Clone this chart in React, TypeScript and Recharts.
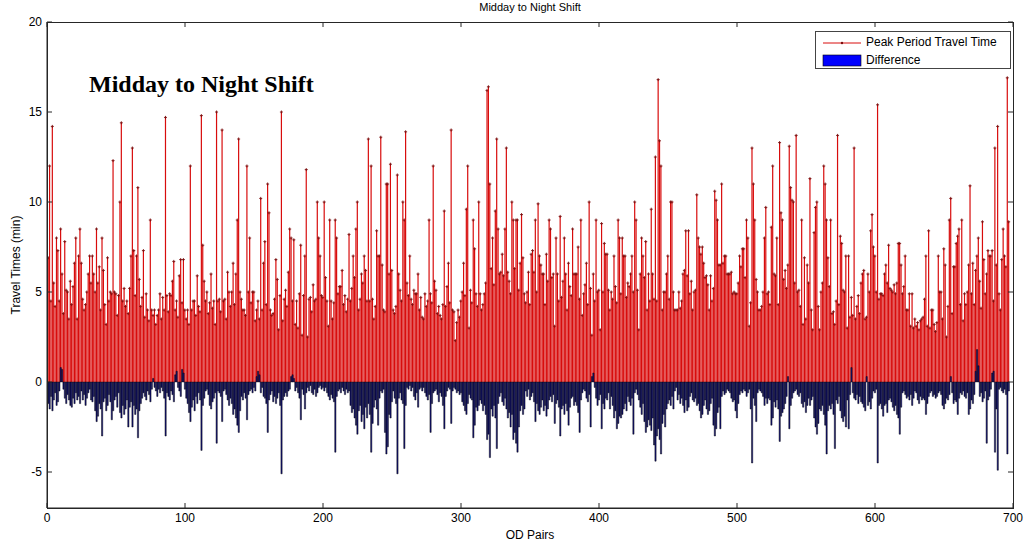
import React from 'react'
import { ComposedChart, Bar, XAxis, YAxis, Legend, Rectangle } from 'recharts'

// peak period travel time per OD pair (min), OD 1..697
const peakTravelTime = [
  6.9, 12, 4.5, 14.2, 5.5, 4.2, 8, 7.3, 4.5, 8.5,
  6, 3.8, 7.8, 5.1, 5, 3.5, 5.6, 4.3, 5.3, 6.6,
  8, 3.5, 7, 8.5, 6.6, 4.6, 4, 4.3, 5, 6,
  7, 5.5, 7, 6, 5, 8.5, 5.5, 6.4, 4, 8,
  6.2, 4.3, 3.2, 6.9, 4.5, 5, 4.9, 12.3, 5, 4.9,
  3.7, 4.8, 10, 14.4, 4.5, 5.2, 4.2, 4.5, 3.8, 5.2,
  7, 13, 7.3, 4.8, 7, 10.8, 5.7, 4.2, 4.7, 7.3,
  3.6, 4.9, 4, 3.4, 9, 4, 3.7, 4, 3.2, 3.7,
  4, 4.9, 3.5, 4.7, 4, 14.7, 4.8, 3.9, 4.9, 4.8,
  5.6, 6.7, 4, 4.5, 3.6, 5.9, 6.8, 4.4, 6.8, 4,
  3.5, 4, 3.2, 12, 4, 4.5, 4.5, 3.7, 5.9, 4.2,
  3.9, 14.8, 7.6, 5.6, 4.5, 5, 3.8, 4.4, 6, 4.1,
  4.5, 3.2, 15, 4.5, 4.6, 3.9, 14, 4.5, 4.6, 3.5,
  6.1, 5, 4.2, 5, 6.6, 4.3, 6, 9, 13.5, 5,
  4.6, 4, 4, 3.7, 12, 5, 8, 4.4, 5, 5,
  3.4, 4, 4.5, 3.5, 10.2, 4, 6.6, 7.8, 4.3, 11,
  9.4, 4, 3.7, 3.8, 4.6, 6.8, 5.7, 2.9, 4.8, 15,
  3.4, 4.6, 5.1, 4.2, 6.1, 8.5, 8, 4.5, 7.9, 3.2,
  4.5, 3, 4.9, 7.6, 2.6, 4.8, 7, 11.8, 2.5, 4.6,
  4.7, 3.9, 5.4, 4.5, 4.6, 10, 8, 7, 4.8, 4.7,
  10, 5.8, 4.5, 3.1, 9, 4.5, 3.5, 4.4, 9, 8,
  4.9, 5.3, 5.3, 6.2, 4.3, 4.8, 3.9, 4.6, 8.2, 4.5,
  5.2, 7, 5.8, 8.5, 10, 4, 4.6, 6, 5.5, 7,
  6.2, 4.5, 13.5, 4.5, 12, 4.6, 3.5, 4.2, 8.4, 7,
  7, 13.6, 6.5, 4, 3.9, 11, 11, 6, 12.1, 6.2,
  4, 3.8, 4.2, 11.5, 6, 5.1, 4.5, 10, 9, 13.9,
  5.5, 4.8, 7, 4.6, 4.3, 5.1, 4.9, 4.9, 6, 4,
  4.7, 3.6, 3.5, 4.9, 4.2, 4.5, 9, 4.9, 4.4, 12,
  5.6, 5.1, 3.8, 4.2, 3.7, 3.5, 4.3, 9.5, 4.2, 5.3,
  6.6, 4.4, 14, 4, 3.9, 2.3, 3.3, 4, 3.6, 4.5,
  5, 6.6, 4.8, 9.6, 12, 3, 5.1, 4.4, 9, 7.4,
  4.9, 4.2, 10, 4.9, 4, 4.3, 4.9, 5.5, 16.2, 16.4,
  11, 6.3, 8, 5.4, 9.5, 13.5, 8.5, 6, 6.1, 7.1,
  5.9, 8.5, 13, 6.1, 5.6, 4.9, 10, 9, 6.3, 9,
  9, 5.1, 6.6, 9.3, 6.9, 4.9, 4.4, 5, 6.1, 4.3,
  7.1, 7.3, 6.1, 9, 5, 9.9, 7, 6.5, 6, 6,
  4.3, 7.1, 5.6, 9, 8.5, 5.8, 6, 3.1, 8, 6,
  4.5, 9.2, 4.7, 5.6, 8, 6, 4, 6.6, 5.3, 4.8,
  8.5, 6, 6, 6, 7.5, 4.6, 9, 3.7, 4.9, 5.4,
  6.6, 4.3, 10, 5.2, 2.6, 6, 4.5, 9, 5, 5.1,
  2.9, 8.8, 5, 7.7, 7.1, 7.1, 5.1, 4, 5, 4.6,
  7, 5.3, 4.4, 9, 8, 4.9, 8, 7, 7, 4.7,
  5.5, 5.3, 6, 7, 5, 10, 9, 5.1, 2.9, 6,
  8, 7, 5.8, 7.8, 4, 6, 4.5, 9.6, 6, 4.6,
  12.5, 4.5, 16.8, 13.4, 12, 4, 5, 5, 6, 7,
  4.6, 10, 10, 5, 4, 4, 4, 5, 4.1, 4.5,
  6, 6.2, 8.4, 5.9, 8.4, 4.9, 5.6, 4, 5, 5.1,
  10.4, 8, 7.5, 7.1, 7.5, 6.6, 5.8, 5.9, 5.4, 4,
  5.9, 4.5, 5.2, 10.6, 10.1, 9, 6.5, 6.5, 11, 6.6,
  7, 7, 6, 6, 6, 6.1, 4.9, 5, 4.9, 4.9,
  5.5, 7, 6.4, 7.4, 7.4, 5.8, 9, 8, 3.1, 4.4,
  13, 11, 9, 5.7, 5, 4, 4, 4.2, 5, 8,
  9.7, 4.9, 5, 4.3, 8.6, 12, 6, 5.9, 8, 4.3,
  13.3, 9.4, 9, 5.7, 6.2, 5.2, 6.5, 13.1, 10.8, 10.1,
  10, 5.5, 13.7, 5, 5.1, 4.2, 9, 3.2, 6.9, 3.5,
  6.5, 5.5, 11.3, 4, 2.9, 8.3, 9.7, 10, 4.2, 2.9,
  5, 5.5, 12, 11, 9, 6.9, 5.3, 9, 3.8, 3.9,
  3.2, 4.5, 13.7, 4.3, 8.1, 7.7, 5.1, 5, 7, 3,
  7, 3.6, 4.7, 3.7, 13, 3.5, 4.2, 4.8, 3.8, 5.5,
  6, 6.2, 3.5, 3.6, 6, 5, 8.4, 9.3, 7.5, 7,
  5, 15.4, 4.6, 4.9, 4.9, 4.8, 6, 6.5, 5.5, 7.6,
  5.2, 5.1, 5, 5.4, 4.9, 5.5, 7.7, 7.7, 6.5, 4.9,
  5.3, 7, 4, 4, 4.9, 3.1, 4.9, 3, 3.5, 3.1,
  3.3, 2.9, 3.4, 3.5, 3.6, 4.6, 7, 3.1, 8.4, 3,
  4, 4, 3.2, 2.8, 3.3, 7, 5, 5, 3.5, 7.4,
  6.5, 2.5, 4.2, 9, 10.2, 3.8, 6.4, 6.4, 7.7, 8.1,
  8.5, 4.3, 9, 3.4, 4.9, 4.3, 5, 6.5, 10.9, 4.9,
  6.6, 4.3, 6.2, 7, 8, 5.6, 4.1, 8.9, 6.8, 4.9,
  6, 7.3, 7, 7, 7.3, 4.5, 13, 6.5, 14.2, 4.9,
  4, 6.8, 8.5, 7, 6.4, 16.9, 8.9,
]

// difference (min), OD 1..697
const difference = [
  -1.2, -1.5, -0.8, -1.6, -1.0, -0.6, -1.3, -1.1, -0.5, 0.8,
  0.7, -0.4, -0.9, -1.2, -0.7, -1.0, -1.3, -1.4, -0.9, -1.2,
  -0.6, -1.0, -0.8, -1.2, -0.5, -1.0, -0.7, -1.3, -0.9, -0.6,
  -0.4, -1.0, -1.1, -0.8, -1.6, -2.2, -1.9, -1.2, -1.5, -3.0,
  -1.1, -0.9, -1.6, -1.3, -0.7, -1.1, -2.1, -1.6, -1.0, -0.8,
  -1.4, -0.6, -1.7, -2.0, -1.3, -1.8, -1.5, -1.0, -2.5, -1.4,
  -1.1, -2.5, -1.3, -1.8, -1.5, -3.1, -1.6, -1.2, -0.9, -0.6,
  -0.8, -1.0, -0.5, -0.7, -1.1, -0.4, 0.2, -0.3, -0.5, -0.8,
  -0.4, -0.6, -0.3, -0.5, -0.9, -3.0, -0.6, -0.8, -1.0, -0.5,
  -0.7, -1.1, 0.4, 0.6, -0.3, -0.5, -0.8, 0.7, 0.5, -0.4,
  -0.9, -1.2, -1.7, -2.2, -1.4, -1.0, -1.6, -0.8, -1.2, -0.6,
  -1.0, -3.8, -1.3, -0.9, -0.5, -0.4, -0.7, -1.3, -1.5, -1.1,
  -0.9, -0.6, -3.4, -0.5, -0.6, -0.8, -2.2, -0.5, -0.4, -0.7,
  -1.0, -1.3, -0.9, -1.2, -1.8, -1.5, -2.0, -2.4, -2.8, -1.6,
  -0.8, -1.0, -0.6, -0.9, -2.1, -0.7, -0.5, -0.4, -0.6, -0.3,
  -0.5, 0.3, 0.6, 0.4, -0.6, -0.3, -0.8, -0.9, -1.2, -2.8,
  -1.0, -0.7, -0.5, -1.1, -0.8, -1.2, -0.9, -0.6, -1.3, -5.1,
  -1.0, -0.8, -0.6, -0.8, -0.5, -0.4, 0.3, 0.4, 0.2, -0.5,
  -0.3, -0.6, -0.9, -2.1, -0.4, -0.7, -1.5, -0.6, -0.3, -0.5,
  -0.2, -0.6, -0.7, -0.4, -0.8, -0.6, -0.3, -0.2, -0.4, -0.3,
  -0.5, -0.3, -0.6, -0.8, -1.0, -0.7, -0.9, -1.1, -3.9, -0.8,
  -0.5, -0.4, -0.6, -0.3, -0.5, -0.7, -0.4, -0.6, -0.5, -1.3,
  -1.7, -1.5, -2.0, -2.4, -2.9, -1.6, -1.3, -2.2, -1.8, -2.6,
  -1.4, -2.0, -1.2, -1.8, -3.9, -2.3, -1.4, -1.0, -1.5, -2.4,
  -0.9, -0.5, -0.6, -0.4, -2.8, -4.0, -3.6, -1.8, -2.0, -1.1,
  -0.5, -0.9, -1.2, -5.1, -0.9, -0.6, -1.0, -1.2, -3.7, -1.3,
  -0.3, -0.4, -0.2, -0.5, -0.3, -0.8, -1.0, -0.6, -1.4, -0.4,
  -0.3, -0.5, -0.3, -0.6, -0.8, -1.0, -0.7, -2.8, -1.2, -0.6,
  -0.5, -0.4, -0.7, -1.1, -0.6, -0.8, -1.3, -2.6, -0.8, -0.5,
  -0.3, -0.4, -2.3, -0.5, -0.3, -0.4, -0.6, -0.5, -0.7, -0.6,
  -1.1, -1.3, -1.6, -1.8, -1.2, -0.7, -0.9, -1.0, -3.1, -2.4,
  -1.4, -1.6, -1.3, -1.0, -1.2, -1.6, -1.3, -1.8, -3.2, -2.9,
  -4.2, -1.5, -1.9, -1.3, -2.0, -3.7, -1.2, -0.8, -0.6, -1.1,
  -1.3, -0.9, -1.5, -2.0, -1.7, -2.5, -1.8, -3.2, -2.8, -3.4,
  -3.9, -2.5, -1.6, -1.3, -1.8, -1.5, -0.5, -0.8, -0.4, -1.0,
  -0.8, -0.6, -1.1, -2.2, -1.2, -1.6, -1.8, -1.4, -1.0, -1.6,
  -1.3, -1.9, -1.5, -1.0, -0.8, -1.1, -0.7, -2.3, -1.2, -1.0,
  -1.4, -3.0, -1.5, -1.3, -1.8, -1.2, -1.6, -2.4, -1.4, -0.9,
  -0.8, -1.3, -1.1, -1.3, -1.7, -2.8, -1.0, -0.6, -0.4, -0.5,
  -0.9, -1.1, -0.7, -2.5, 0.3, 0.5, -0.3, -0.9, -1.3, -1.0,
  -0.7, -2.6, -1.2, -1.5, -0.9, -1.0, -0.6, -1.5, -0.8, -1.3,
  -2.0, -1.6, -2.6, -2.3, -1.9, -2.0, -1.8, -1.5, -1.2, -1.6,
  -0.8, -1.1, -1.3, -0.9, -2.9, -0.6, -0.4, -0.7, -1.0, -1.4,
  -1.8, -1.2, -2.2, -2.8, -2.5, -2.1, -2.4, -2.7, -2.0, -3.5,
  -4.4, -3.0, -2.6, -3.2, -4.0, -2.3, -1.8, -2.5, -1.5, -1.2,
  -1.0, -1.3, -0.8, -1.5, -0.5, -0.3, -1.0, -0.7, -1.2, -0.9,
  -1.3, -1.7, -1.0, -1.6, -1.4, -0.8, -0.6, -1.0, -1.1, -0.9,
  -1.3, -1.2, -1.6, -2.0, -1.8, -1.3, -1.0, -1.5, -1.8, -1.6,
  -1.2, -0.9, -2.4, -3.0, -2.6, -1.7, -1.4, -2.6, -0.8, -0.5,
  -0.7, -0.6, -0.4, -0.5, -0.6, -0.9, -1.1, -1.0, -1.6, -2.0,
  -1.2, -0.7, -0.5, -0.6, -0.4, -0.5, -0.8, -0.6, -0.4, -1.5,
  -4.5, -0.9, -1.3, -2.2, -0.6, -0.4, -0.5, -0.6, -0.8, -1.3,
  -0.9, -1.2, -0.9, -1.0, -2.4, -2.0, -1.1, -1.4, -1.0, -1.5,
  -3.3, -1.9, -1.7, -1.5, -1.2, -0.8, 0.3, -2.6, -1.3, -0.9,
  -0.6, -0.5, -0.4, -0.7, -0.8, -0.6, -1.2, -1.4, -1.1, -1.7,
  -1.3, -0.9, -1.3, -1.0, -0.8, -2.0, -2.5, -2.9, -2.3, -1.5,
  -1.6, -1.3, -1.8, -2.4, -4.0, -1.6, -1.3, -1.5, -1.2, -1.8,
  -3.7, -1.0, -1.2, -0.8, -1.6, -2.0, -2.2, -1.9, -2.5, -1.0,
  -2.6, -0.7, 0.8, -0.6, -0.9, -1.0, -0.7, -1.2, -0.8, -1.1,
  -1.2, -1.4, -1.6, 0.3, -1.3, -1.1, -1.5, -0.9, -0.5, -0.6,
  -0.4, -4.5, -1.3, -1.2, -1.5, -1.9, -1.3, -1.2, -1.7, -1.0,
  -0.9, -1.1, -1.4, -1.6, -1.3, -1.8, -2.0, -2.9, -1.4, -0.6,
  -0.5, -0.7, -0.9, -0.8, -1.0, -0.7, -1.3, -0.9, -0.5, -0.6,
  -1.0, -1.2, -0.8, -1.0, -0.9, -1.0, -1.8, -1.2, -0.8, -0.6,
  -0.5, -0.8, -0.7, -0.9, -0.8, -0.6, -0.5, -0.7, -1.3, -1.5,
  -1.2, -0.9, -1.0, -0.7, 0.3, -0.6, -1.2, -1.0, -1.1, -1.8,
  -0.9, -0.6, -0.7, -0.5, -0.8, -0.9, -0.6, -1.8, -1.5, -1.0,
  -1.2, -0.7, 0.6, 1.8, 0.9, -0.8, -0.6, -1.1, -0.9, -0.5,
  -3.4, -1.0, -0.8, -0.4, 0.5, 0.6, -3.9, -1.5, -4.9, -0.4,
  -0.3, -0.5, -0.6, -0.4, -0.7, -4.0, -0.5,
]

const xTicks = [0, 100, 200, 300, 400, 500, 600, 700]
const yTicks = [-5, 0, 5, 10, 15, 20]
const xMin = 0
const xMax = 700
const yMin = -7
const yMax = 20

const data = peakTravelTime.map((p, i) => ({ od: i + 1, peak: p, diff: difference[i] }))

const FONT = '"Liberation Sans", Arial, sans-serif'
const AXIS = '#262626'
const tickStyle = { fontSize: 12, fill: '#000', fontFamily: FONT }

// plot box (matches chart margins + axis sizes below)
const BOX = { left: 47, top: 22, width: 966, height: 486 }

function Stem(props: any) {
  const { x, y, width, height } = props
  if (x == null || y == null) return null
  const cx = x + width / 2
  const top = y
  const bottom = y + height
  return (
    <g>
      <line x1={cx} x2={cx} y1={bottom} y2={top} stroke="#d80c0c" strokeWidth={1.2} />
      <path d={`M${cx - 1.5},${top}H${cx + 1.5}M${cx},${top - 1.5}V${top + 1.5}`} stroke="#7a0c0c" strokeWidth={0.9} />
    </g>
  )
}

function DiffBar(props: any) {
  return <Rectangle {...props} fill="#14147c" stroke="#000" strokeWidth={0.45} />
}

function LegendBox() {
  return (
    <div style={{ position: 'relative', width: 194, height: 36, border: '1px solid #444', background: '#fff', fontFamily: FONT, fontSize: 12, color: '#000' }}>
      <svg width={44} height={36} style={{ position: 'absolute', left: 5, top: 0 }}>
        <line x1={2} x2={40} y1={11} y2={11} stroke="#d80c0c" />
        <circle cx={21} cy={11} r={1.2} fill="#7a0c0c" />
        <rect x={2} y={23} width={38} height={11} fill="#0000ff" stroke="#000" strokeWidth={0.6} />
      </svg>
      <div style={{ position: 'absolute', left: 50, top: 3, lineHeight: '14px' }}>Peak Period Travel Time</div>
      <div style={{ position: 'absolute', left: 50, top: 21, lineHeight: '14px' }}>Difference</div>
    </div>
  )
}

// MATLAB-style box around the axes, with mirrored tick marks on top and right
function BoxFrame() {
  const px = (t: number) => ((t - xMin) / (xMax - xMin)) * BOX.width
  const py = (v: number) => ((yMax - v) / (yMax - yMin)) * BOX.height
  return (
    <div style={{ position: 'absolute', left: BOX.left - 0.5, top: BOX.top - 0.5, width: BOX.width + 1, height: BOX.height + 1, boxSizing: 'border-box', border: `1px solid ${AXIS}`, pointerEvents: 'none', zIndex: 5 }}>
      <svg width={BOX.width} height={BOX.height} style={{ position: 'absolute', left: -0.5, top: -0.5, overflow: 'visible' }}>
        {xTicks.map(t => (
          <line key={`t${t}`} x1={px(t)} x2={px(t)} y1={0} y2={5} stroke={AXIS} />
        ))}
        {yTicks.map(t => (
          <line key={`r${t}`} x1={BOX.width - 5} x2={BOX.width} y1={py(t)} y2={py(t)} stroke={AXIS} />
        ))}
      </svg>
    </div>
  )
}

export default function App() {
  return (
    <div style={{ position: 'absolute', left: 0, top: 0, width: 1026, height: 545, background: '#fff' }}>
      <ComposedChart width={1026} height={545} data={data} margin={{ top: BOX.top, right: 1026 - BOX.left - BOX.width, bottom: 0, left: 0 }}>
        <XAxis
          xAxisId="a" dataKey="od" type="number" domain={[xMin, xMax]} ticks={xTicks} allowDataOverflow
          height={545 - BOX.top - BOX.height} tickSize={-5} tickMargin={10} tick={tickStyle}
          axisLine={{ stroke: AXIS }} tickLine={{ stroke: AXIS }}
          label={{ value: 'OD Pairs', position: 'insideBottom', offset: 6, fontSize: 12, fill: '#000', fontFamily: FONT }}
        />
        <XAxis xAxisId="b" dataKey="od" type="number" domain={[xMin, xMax]} allowDataOverflow hide />
        <YAxis
          domain={[yMin, yMax]} ticks={yTicks} allowDataOverflow width={BOX.left}
          tickSize={-5} tickMargin={10} tick={tickStyle}
          axisLine={{ stroke: AXIS }} tickLine={{ stroke: AXIS }}
          label={{ value: 'Travel Times (min)', angle: -90, position: 'center', dx: -8, fontSize: 12, fill: '#000', fontFamily: FONT }}
        />
        <Legend
          layout="vertical" align="center" verticalAlign="middle"
          wrapperStyle={{ left: 815, top: 31, width: 196 }}
          content={() => <LegendBox />}
        />
        <Bar xAxisId="a" dataKey="peak" barSize={1} shape={Stem} isAnimationActive={false} />
        <Bar xAxisId="b" dataKey="diff" barSize={1.25} shape={DiffBar} isAnimationActive={false} />
      </ComposedChart>
      <BoxFrame />
      <div style={{ position: 'absolute', left: 47, width: 966, top: 2, textAlign: 'center', fontFamily: FONT, fontSize: 11, lineHeight: '11px' }}>
        Midday to Night Shift
      </div>
      <div style={{ position: 'absolute', left: 89, top: 72, fontFamily: '"Liberation Serif", "Times New Roman", serif', fontWeight: 'bold', fontSize: 24, lineHeight: '24px' }}>
        Midday to Night Shift
      </div>
    </div>
  )
}
